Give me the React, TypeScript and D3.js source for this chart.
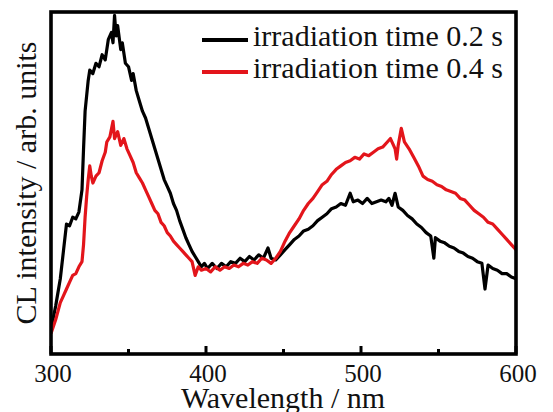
import React from "react";
import * as d3 from "d3";

const xTicksMajor = [300, 400, 500, 600];
const xTicksMinor = [350, 450, 550];
const seriesNames = ["irradiation time 0.2 s", "irradiation time 0.4 s"];
const seriesColors = ["#000000", "#e3151b"];

const black02: [number, number][] = [
  [300, 7.3], [303, 14], [306, 22], [308, 30], [310, 38], [312, 37.5], [314, 40], [316, 39.5], [318, 41.5], [320, 48],
  [321, 60], [322, 71], [324, 80], [325, 83], [327, 82], [329, 85], [331, 84], [333, 87.5], [335, 86], [337, 92],
  [339, 94], [340, 91], [341, 99], [342, 93], [343, 96], [345, 89], [346, 91], [348, 85], [350, 84], [352, 80],
  [353, 82], [355, 77], [357, 74], [359, 71], [361, 69], [363, 66], [365, 63], [367, 60], [369, 57], [371, 54],
  [373, 51], [375, 49], [377, 47], [379, 44], [381, 42], [383, 39], [385, 36.5], [387, 34], [389, 32], [391, 30],
  [393, 28.5], [395, 27], [397, 25.5], [399, 26.5], [401, 25], [404, 26.5], [407, 25], [410, 26.5], [413, 25.5], [416, 27],
  [419, 26.5], [422, 28], [425, 27], [428, 28.5], [431, 27.5], [434, 29], [437, 28], [440, 31], [442, 28], [445, 27.5],
  [448, 29], [451, 30.5], [454, 32], [457, 33.5], [460, 34.5], [463, 36], [466, 36.5], [469, 37.5], [472, 39], [475, 40],
  [478, 41], [481, 42.5], [484, 43], [487, 44], [490, 43.5], [493, 47], [495, 44.5], [498, 45], [501, 44], [504, 45.5],
  [507, 44], [510, 44.5], [513, 45], [516, 44.5], [518, 45.5], [520, 43.5], [522, 47], [524, 43], [527, 42], [530, 40.5],
  [533, 39.5], [536, 38], [539, 37], [542, 35.5], [545, 34.5], [547, 28], [548, 34], [551, 33], [554, 32.5], [557, 31.5],
  [560, 31], [563, 30], [566, 29.5], [569, 28.5], [572, 28], [575, 27], [578, 26.5], [580, 19], [582, 26], [585, 25],
  [588, 24.5], [591, 23.5], [594, 23.5], [597, 22.5], [600, 22],
];

const red04: [number, number][] = [
  [300, 6], [303, 10], [306, 15], [308, 17], [310, 19], [312, 21], [314, 23], [316, 23.5], [318, 25.5], [320, 27],
  [321, 32], [322, 40], [323, 46], [324, 51], [325, 55], [326, 52], [327, 50], [329, 52], [331, 53], [333, 56.5],
  [335, 59], [336, 62], [338, 63.5], [340, 68], [341, 63], [343, 65], [345, 61], [347, 63], [349, 60], [351, 58],
  [353, 56], [355, 53], [357, 51.5], [359, 50], [361, 48], [363, 46], [365, 44], [367, 42], [369, 41], [371, 38.5],
  [373, 37.5], [375, 35.5], [377, 34.5], [379, 33], [381, 32], [383, 31], [385, 30], [387, 29], [389, 28], [391, 27],
  [393, 23], [395, 25.5], [397, 24.5], [400, 25], [403, 24], [406, 25.5], [409, 24.5], [412, 25.5], [415, 25], [418, 26],
  [421, 25.5], [424, 26.5], [427, 26], [430, 27], [433, 26.5], [436, 28], [439, 27.5], [442, 26.5], [445, 28], [448, 30],
  [451, 33], [454, 35.5], [457, 37.5], [460, 39.5], [463, 42], [466, 44], [469, 45.5], [472, 47.5], [475, 49.5], [478, 50.5],
  [481, 52.5], [484, 54], [487, 55], [490, 56], [493, 56.5], [496, 57.5], [499, 57], [502, 58.5], [505, 58], [508, 59],
  [511, 60], [514, 60.5], [517, 62], [519, 63], [521, 61], [522, 60], [523, 57], [524, 61], [526, 66], [528, 62],
  [531, 60], [534, 57.5], [537, 55], [540, 52], [543, 51], [546, 50.5], [549, 49.5], [552, 49], [555, 48], [558, 47.5],
  [561, 47], [564, 45.5], [567, 45], [570, 43.5], [573, 42], [576, 41], [579, 40], [582, 38.5], [585, 38], [588, 36.5],
  [591, 35], [594, 33.5], [597, 32], [600, 30.5],
];

const series = [black02, red04];

const W = 553;
const H = 412;
const L = 51, R = 516, T = 12, B = 354;
const FONT = "Liberation Serif, Times New Roman, DejaVu Serif, serif";

export default function App() {
  const x = d3.scaleLinear().domain([300, 600]).range([L, R]);
  const y = d3.scaleLinear().domain([0, 100]).range([B, T]);
  const line = d3
    .line<[number, number]>()
    .x((d) => x(d[0]))
    .y((d) => y(d[1]));

  return (
    <svg
      width={W}
      height={H}
      style={{ position: "absolute", left: 0, top: 0, background: "#fff", fontFamily: FONT }}
    >
      <defs>
        <clipPath id="plotclip">
          <rect x={L} y={T} width={R - L} height={B - T} />
        </clipPath>
      </defs>
      <g clipPath="url(#plotclip)">
        {series.map((s, i) => (
          <path
            key={i}
            d={line(s) ?? ""}
            fill="none"
            stroke={seriesColors[i]}
            strokeWidth={3.2}
            strokeLinejoin="round"
          />
        ))}
      </g>
      {xTicksMajor.map((t) => (
        <line key={"M" + t} x1={x(t)} x2={x(t)} y1={B} y2={B - 8} stroke="#000" strokeWidth={3} />
      ))}
      {xTicksMinor.map((t) => (
        <line key={"m" + t} x1={x(t)} x2={x(t)} y1={B} y2={B - 5} stroke="#000" strokeWidth={3} />
      ))}
      <rect x={L} y={T} width={R - L} height={B - T} fill="none" stroke="#000" strokeWidth={3.6} />
      {xTicksMajor.map((t) => (
        <text key={"l" + t} x={x(t) + 2} y={382} fontSize={25} textAnchor="middle" fill="#111">
          {t}
        </text>
      ))}
      <text x={283} y={408} fontSize={30} textAnchor="middle" fill="#111">
        Wavelength / nm
      </text>
      <text
        transform={`translate(36,${183}) rotate(-90)`}
        fontSize={30}
        textAnchor="middle"
        fill="#111"
      >
        CL intensity / arb. units
      </text>
      {seriesNames.map((n, i) => (
        <g key={n}>
          <line x1={202} x2={248} y1={40 + i * 32} y2={40 + i * 32} stroke={seriesColors[i]} strokeWidth={4} />
          <text x={253} y={46 + i * 32} fontSize={30} fill="#111">
            {n}
          </text>
        </g>
      ))}
    </svg>
  );
}
